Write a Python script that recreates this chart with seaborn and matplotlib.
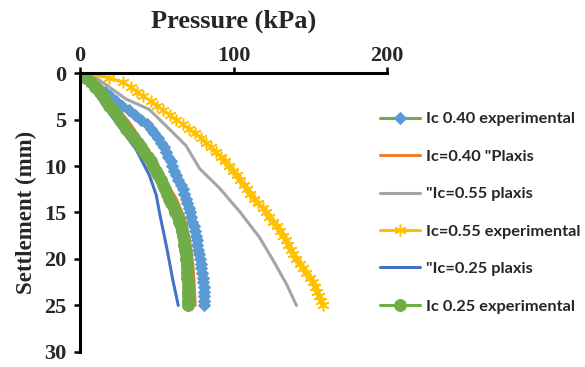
import matplotlib
matplotlib.use("Agg")
import matplotlib.pyplot as plt
import seaborn as sns
import pandas as pd

# Settlement depth (mm) and pressure (kPa) for each footing test / model
ic040_exp_settle = [i * 0.5 for i in range(0, 51)]
ic040_exp_press = [0, 4, 8, 12, 16, 19.5, 23.5, 27.5, 32, 36, 40, 43.5, 46, 48.5, 50.5,
                   52.5, 54.5, 56, 57.5, 59, 60, 61.5, 62.5, 64, 65.5, 67, 68, 69, 70,
                   71, 71.5, 72.5, 73, 74, 75, 75.5, 76, 76.5, 77, 77.5, 78, 78.5, 79,
                   79.5, 80, 80, 80.5, 80.5, 81, 81, 81]

ic040_plx_settle = [0, 1, 2.8, 5.3, 8.5, 11.3, 13.5, 15.6, 18.1, 20.6, 23, 25]
ic040_plx_press = [0, 7, 19, 32, 45, 54, 62.6, 68, 71.5, 73.5, 74.5, 75]

ic055_plx_settle = [0, 0.5, 2.8, 3.9, 6, 7.8, 10.3, 12.4, 14.9, 17.7, 20.2, 22.7, 25]
ic055_plx_press = [0, 10.4, 30, 45, 58, 69, 78, 91, 104, 117, 126, 134.5, 141]

ic055_exp_settle = [i * 0.5 for i in range(0, 51)]
ic055_exp_press = [0, 19, 28, 33, 37, 41, 46, 50, 54, 58.5, 62.6, 67, 71, 75, 79, 82,
                   85.5, 88.5, 92, 94.5, 97, 99.5, 102, 104.5, 106.5, 108.5, 111, 113.5,
                   116, 119, 121, 123, 125.5, 128, 130, 132, 134, 135.5, 137.5, 139, 141,
                   143.5, 145.5, 147.5, 150, 151.5, 153, 154.5, 156, 157, 158]

ic025_plx_settle = [0, 2.8, 5.3, 8.2, 11, 13.1, 15.2, 18.8, 22.3, 25]
ic025_plx_press = [0, 12.6, 23.5, 36.5, 45.2, 49.6, 52, 56.5, 60.5, 64]

ic025_exp_settle = [i * 0.5 for i in range(0, 51)]
ic025_exp_press = [0, 4, 7, 10, 13, 15, 17, 19, 21.5, 24, 26, 28, 30, 32.5, 35, 37.5, 40,
                   42, 44, 46, 47.5, 49.5, 51, 52.5, 54, 55.5, 56.5, 58, 59.5, 61, 62,
                   63.5, 64.5, 65.5, 66.5, 67, 67.5, 68, 68.5, 69, 69, 69.5, 69.5, 70, 70,
                   70.5, 70.5, 70.5, 70.5, 70.5, 70.5]

x_ticks = [0, 100, 200]
y_ticks = [0, 5, 10, 15, 20, 25, 30]

series = [
    ("Ic 0.40 experimental", ic040_exp_press, ic040_exp_settle,
     dict(color="#70AD47", marker="D", markersize=6, markerfacecolor="#5B9BD5",
          markeredgecolor="#5B9BD5")),
    ("Ic=0.40 \"Plaxis", ic040_plx_press, ic040_plx_settle,
     dict(color="#ED7D31")),
    ("\"Ic=0.55 plaxis", ic055_plx_press, ic055_plx_settle,
     dict(color="#A5A5A5")),
    ("Ic=0.55 experimental", ic055_exp_press, ic055_exp_settle,
     dict(color="#FFC000", marker=(6, 2, 0), markersize=8.5, markeredgewidth=1.1,
          markeredgecolor="#FFC000")),
    ("\"Ic=0.25 plaxis", ic025_plx_press, ic025_plx_settle,
     dict(color="#4472C4")),
    ("Ic 0.25 experimental", ic025_exp_press, ic025_exp_settle,
     dict(color="#70AD47", marker="o", markersize=8.5, markerfacecolor="#70AD47",
          markeredgecolor="#70AD47")),
]

sns.set_style("white")
serif = "Liberation Serif"
plt.rcParams["font.family"] = [serif]
plt.rcParams["font.weight"] = "bold"

fig = plt.figure(figsize=(5.85, 3.67), dpi=100)
ax = fig.add_axes([0.1368, 0.041, 0.5248, 0.760])

for label, press, settle, style in series:
    df = pd.DataFrame({"Pressure": press, "Settlement": settle})
    sns.lineplot(data=df, x="Pressure", y="Settlement", ax=ax, sort=False,
                 estimator=None, label=label, linewidth=2.2, **style)

ax.set_xlim(0, 200)
ax.set_ylim(30, 0)
ax.set_xticks(x_ticks)
ax.set_yticks(y_ticks)
ax.xaxis.tick_top()
ax.xaxis.set_label_position("top")

for side in ("right", "bottom"):
    ax.spines[side].set_visible(False)
for side in ("left", "top"):
    ax.spines[side].set_linewidth(2.2)
    ax.spines[side].set_color("black")

ax.tick_params(axis="both", which="major", length=4, width=1.8, color="black",
               labelsize=16)
ax.tick_params(axis="x", top=True, bottom=False, pad=1)
ax.tick_params(axis="y", left=True, pad=6)

ax.set_xlabel("Pressure (kPa)", fontsize=19, fontweight="bold", labelpad=13)
ax.set_ylabel("Settlement (mm)", fontsize=16.5, fontweight="bold", labelpad=5)

handles, labels = ax.get_legend_handles_labels()
ax.get_legend().remove()
fig.legend(handles, labels, loc="upper left", bbox_to_anchor=(0.625, 0.735),
           frameon=False, numpoints=1, handlelength=2.4, handletextpad=0.4,
           labelspacing=1.4, prop={"family": "Lato", "weight": "bold", "size": 11.8})

fig.savefig("out.png", dpi=100)
